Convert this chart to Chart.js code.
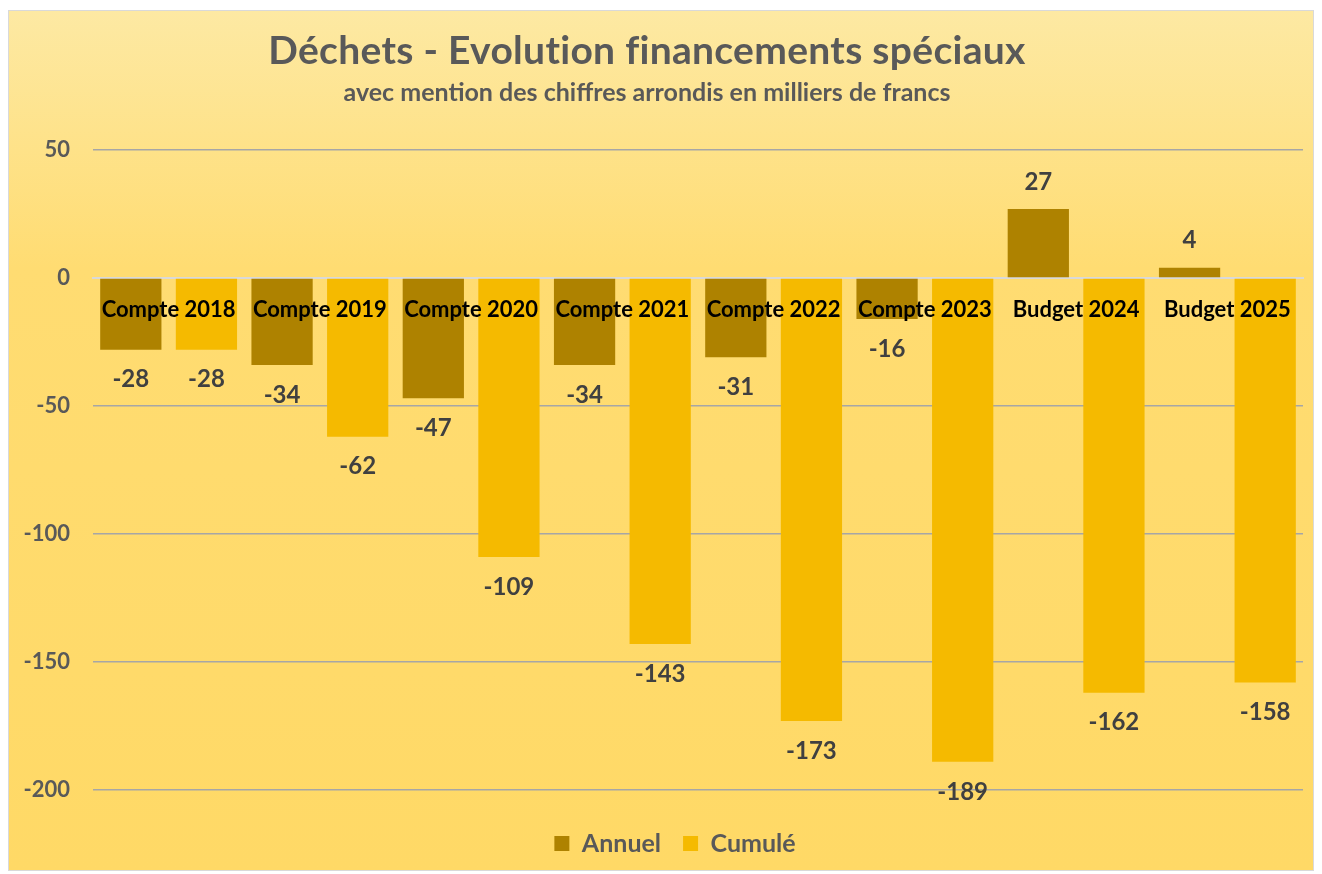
<!DOCTYPE html>
<html lang="fr">
<head>
<meta charset="utf-8">
<title>Déchets - Evolution financements spéciaux</title>
<script src="https://cdn.jsdelivr.net/npm/chart.js@4.4.1/dist/chart.umd.min.js"></script>
<style>
  html, body { margin: 0; padding: 0; background: #fff; }
  #cadre {
    position: absolute; left: 8px; top: 10px;
    width: 1304px; height: 859px;
    border: 1px solid #d9d9d9;
    background: linear-gradient(to bottom, #fde9a3 0%, #ffdc72 30%, #ffd966 100%);
  }
  canvas { display: block; }
</style>
</head>
<body>
<div id="cadre"><canvas id="grafica" width="1304" height="859"></canvas></div>
<script>
// Données (en milliers de francs)
var categories = ['Compte 2018', 'Compte 2019', 'Compte 2020', 'Compte 2021',
                  'Compte 2022', 'Compte 2023', 'Budget 2024', 'Budget 2025'];
var annuel = [-28, -34, -47, -34, -31, -16, 27, 4];
var cumule = [-28, -62, -109, -143, -173, -189, -162, -158];
var yTicks = [50, 0, -50, -100, -150, -200];

var titre = 'Déchets - Evolution financements spéciaux';
var sousTitre = 'avec mention des chiffres arrondis en milliers de francs';

// Titre + sous-titre (un peu à gauche du centre, comme dans Excel)
var titres = {
  id: 'titres',
  afterDraw: function (chart) {
    var ctx = chart.ctx;
    ctx.save();
    ctx.fillStyle = '#595959';
    ctx.textAlign = 'center';
    ctx.textBaseline = 'alphabetic';
    ctx.letterSpacing = '0.3px'; // évite la ligature "ti"
    ctx.font = 'bold 39px Lato';
    ctx.fillText(titre, 638, 53);
    ctx.letterSpacing = '0px';
    ctx.font = 'bold 25px Lato';
    ctx.fillText(sousTitre, 638, 90);
    ctx.restore();
  }
};

// Valeurs au bout des barres
var etiquettes = {
  id: 'etiquettes',
  afterDatasetsDraw: function (chart) {
    var ctx = chart.ctx;
    ctx.save();
    ctx.font = 'bold 24px Lato';
    ctx.fillStyle = '#404040';
    ctx.textAlign = 'center';
    ctx.textBaseline = 'middle';
    chart.data.datasets.forEach(function (ds, i) {
      chart.getDatasetMeta(i).data.forEach(function (bar, j) {
        var v = ds.data[j];
        var y = v < 0 ? bar.y + 30 : bar.y - 27;
        ctx.fillText(v, bar.x, y);
      });
    });
    ctx.restore();
  }
};

// La légende d'Excel est un peu décalée vers la droite
var decalageLegende = {
  id: 'decalageLegende',
  afterLayout: function (chart) {
    chart.legend.left += 38;
  }
};

var ctx = document.getElementById('grafica').getContext('2d');
var myChart = new Chart(ctx, {
  type: 'bar',
  data: {
    labels: categories,
    datasets: [
      { label: 'Annuel', data: annuel, backgroundColor: '#ae8200' },
      { label: 'Cumulé', data: cumule, backgroundColor: '#f5ba00' }
    ]
  },
  options: {
    responsive: false,
    animation: false,
    devicePixelRatio: 1,
    categoryPercentage: 1.0,
    barPercentage: 0.81,
    layout: { padding: { top: 139, left: 0, right: 10, bottom: 4 } },
    scales: {
      x: {
        type: 'category',
        position: { y: 0 },
        grid: { display: false, drawTicks: false },
        border: { display: true, color: '#d9d9d9', width: 2 },
        ticks: {
          z: 1,
          color: '#000',
          font: { family: 'Lato', weight: 'bold', size: 22 },
          padding: 19,
          maxRotation: 0,
          autoSkip: false
        }
      },
      y: {
        min: -200,
        max: 50,
        afterBuildTicks: function (axis) {
          axis.ticks = yTicks.map(function (v) { return { value: v }; });
        },
        afterFit: function (axis) { axis.width = 84; },
        border: { display: false },
        grid: {
          drawTicks: false,
          lineWidth: 1.5,
          color: function (c) { return c.tick && c.tick.value === 0 ? '#d9d9d9' : '#a6a6a6'; }
        },
        ticks: {
          color: '#595959',
          font: { family: 'Lato', weight: 'bold', size: 22 },
          padding: 23
        }
      }
    },
    plugins: {
      tooltip: { enabled: false },
      legend: {
        position: 'bottom',
        title: { display: true, text: '', font: { size: 10 }, padding: { top: 0, bottom: 7 } },
        labels: {
          boxWidth: 15,
          boxHeight: 15,
          padding: 22,
          color: '#595959',
          font: { family: 'Lato', weight: 'bold', size: 25 }
        }
      }
    }
  },
  plugins: [titres, etiquettes, decalageLegende]
});
</script>
</body>
</html>
